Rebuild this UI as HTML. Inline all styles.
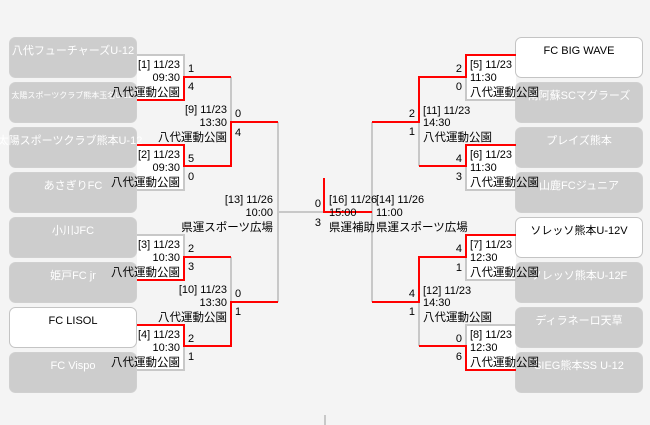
<!DOCTYPE html>
<html><head><meta charset="utf-8"><style>
html,body{margin:0;padding:0;background:#f4f4f4;}
svg{display:block;}
text{font-family:"Liberation Sans","Noto Sans CJK JP",sans-serif;font-size:11px;fill:#000;}
.w{fill:#fff;font-size:11px;}
.b{fill:#000;font-size:11px;}
.v{font-size:11.5px;}
</style></head><body>
<svg width="650" height="425" viewBox="0 0 650 425" xmlns="http://www.w3.org/2000/svg">
<rect width="650" height="425" fill="#f4f4f4"/>
<g fill="#fff">
<rect x="137" y="55" width="47" height="45"/><rect x="137" y="145" width="47" height="45"/>
<rect x="137" y="235" width="47" height="45"/><rect x="137" y="325" width="47" height="45"/>
<rect x="466" y="55" width="50" height="45"/><rect x="466" y="145" width="50" height="45"/>
<rect x="466" y="235" width="50" height="45"/><rect x="466" y="325" width="50" height="45"/>
</g>
<g stroke="#d0d0d0" stroke-width="1">
<rect x="9.5" y="37.5" width="127" height="40" rx="6" fill="#cdcdcd"/>
<rect x="9.5" y="82.5" width="127" height="40" rx="6" fill="#cdcdcd"/>
<rect x="9.5" y="127.5" width="127" height="40" rx="6" fill="#cdcdcd"/>
<rect x="9.5" y="172.5" width="127" height="40" rx="6" fill="#cdcdcd"/>
<rect x="9.5" y="217.5" width="127" height="40" rx="6" fill="#cdcdcd"/>
<rect x="9.5" y="262.5" width="127" height="40" rx="6" fill="#cdcdcd"/>
<rect x="9.5" y="307.5" width="127" height="40" rx="6" fill="#fff" stroke="#c4c4c4"/>
<rect x="9.5" y="352.5" width="127" height="40" rx="6" fill="#cdcdcd"/>
<rect x="515.5" y="37.5" width="127" height="40" rx="6" fill="#fff" stroke="#c4c4c4"/>
<rect x="515.5" y="82.5" width="127" height="40" rx="6" fill="#cdcdcd"/>
<rect x="515.5" y="127.5" width="127" height="40" rx="6" fill="#cdcdcd"/>
<rect x="515.5" y="172.5" width="127" height="40" rx="6" fill="#cdcdcd"/>
<rect x="515.5" y="217.5" width="127" height="40" rx="6" fill="#fff" stroke="#c4c4c4"/>
<rect x="515.5" y="262.5" width="127" height="40" rx="6" fill="#cdcdcd"/>
<rect x="515.5" y="307.5" width="127" height="40" rx="6" fill="#cdcdcd"/>
<rect x="515.5" y="352.5" width="127" height="40" rx="6" fill="#cdcdcd"/>
</g>
<g text-anchor="middle">
<text class="w" x="73" y="54">八代フューチャーズU-12</text>
<text class="w" x="72" y="98" style="font-size:8px">太陽スポーツクラブ熊本玉名U-12</text>
<text class="w" x="70" y="144">太陽スポーツクラブ熊本U-12</text>
<text class="w" x="73" y="189">あさぎりFC</text>
<text class="w" x="73" y="234">小川JFC</text>
<text class="w" x="73" y="279">姫戸FC jr</text>
<text class="b" x="73" y="324">FC LISOL</text>
<text class="w" x="73" y="369">FC Vispo</text>
<text class="b" x="579" y="54">FC BIG WAVE</text>
<text class="w" x="579" y="99">南阿蘇SCマグラーズ</text>
<text class="w" x="579" y="144">プレイズ熊本</text>
<text class="w" x="579" y="189">山鹿FCジュニア</text>
<text class="b" x="579" y="234">ソレッソ熊本U-12V</text>
<text class="w" x="579" y="279">ソレッソ熊本U-12F</text>
<text class="w" x="579" y="324">ディラネーロ天草</text>
<text class="w" x="579" y="369">SIEG熊本SS U-12</text>
</g>
<g stroke="#c8c8c8" stroke-width="2" fill="none">
<path d="M137 55H184V77"/><path d="M137 190H184V166"/><path d="M231 77V122"/>
<path d="M137 235H184V257"/><path d="M137 370H184V346"/><path d="M231 257V302"/>
<path d="M278 122V302"/><path d="M278 212H324"/>
<path d="M516 100H466V77"/><path d="M516 190H466V166"/><path d="M419 122V166"/>
<path d="M516 280H466V257"/><path d="M516 325H466V346"/><path d="M419 302V346"/>
<path d="M372 122V302"/><path d="M325 415V425"/>
</g>
<g stroke="#ff0000" stroke-width="2" fill="none">
<path d="M137 100H184V77H231"/><path d="M137 145H184V166H231V122H278"/>
<path d="M137 280H184V257H231"/><path d="M137 325H184V346H231V302H278"/>
<path d="M516 55H466V77H419V122H372"/><path d="M516 145H466V166H419"/>
<path d="M516 235H466V257H419V302H372"/><path d="M516 370H466V346H419"/>
<path d="M372 212H324V178"/>
</g>
<g text-anchor="end">
<text x="180" y="68">[1] 11/23</text><text x="180" y="81">09:30</text><text class="v" x="180" y="96">八代運動公園</text>
<text x="180" y="158">[2] 11/23</text><text x="180" y="171">09:30</text><text class="v" x="180" y="186">八代運動公園</text>
<text x="180" y="248">[3] 11/23</text><text x="180" y="261">10:30</text><text class="v" x="180" y="276">八代運動公園</text>
<text x="180" y="338">[4] 11/23</text><text x="180" y="351">10:30</text><text class="v" x="180" y="366">八代運動公園</text>
<text x="227" y="113">[9] 11/23</text><text x="227" y="126">13:30</text><text class="v" x="227" y="141">八代運動公園</text>
<text x="227" y="293">[10] 11/23</text><text x="227" y="306">13:30</text><text class="v" x="227" y="321">八代運動公園</text>
<text x="273" y="203">[13] 11/26</text><text x="273" y="216">10:00</text><text class="v" x="273" y="231">県運スポーツ広場</text>
<text x="462" y="72">2</text><text x="462" y="90">0</text>
<text x="462" y="162">4</text><text x="462" y="180">3</text>
<text x="462" y="252">4</text><text x="462" y="271">1</text>
<text x="462" y="342">0</text><text x="462" y="360">6</text>
<text x="415" y="117">2</text><text x="415" y="135">1</text>
<text x="415" y="297">4</text><text x="415" y="315">1</text>
<text x="321" y="207">0</text><text x="321" y="226">3</text>
</g>
<g>
<text x="188" y="72">1</text><text x="188" y="90">4</text>
<text x="188" y="162">5</text><text x="188" y="180">0</text>
<text x="188" y="252">2</text><text x="188" y="270">3</text>
<text x="188" y="342">2</text><text x="188" y="360">1</text>
<text x="235" y="117">0</text><text x="235" y="136">4</text>
<text x="235" y="297">0</text><text x="235" y="315">1</text>
<text x="470" y="68">[5] 11/23</text><text x="470" y="81">11:30</text><text class="v" x="470" y="96">八代運動公園</text>
<text x="470" y="158">[6] 11/23</text><text x="470" y="171">11:30</text><text class="v" x="470" y="186">八代運動公園</text>
<text x="470" y="248">[7] 11/23</text><text x="470" y="261">12:30</text><text class="v" x="470" y="276">八代運動公園</text>
<text x="470" y="338">[8] 11/23</text><text x="470" y="351">12:30</text><text class="v" x="470" y="366">八代運動公園</text>
<text x="423" y="114">[11] 11/23</text><text x="423" y="126">14:30</text><text class="v" x="423" y="141">八代運動公園</text>
<text x="423" y="294">[12] 11/23</text><text x="423" y="306">14:30</text><text class="v" x="423" y="321">八代運動公園</text>
<text x="329" y="203">[16] 11/26</text><text x="329" y="216">15:00</text><text class="v" x="329" y="231">県運補助</text>
<text x="376" y="203">[14] 11/26</text><text x="376" y="216">11:00</text><text class="v" x="376" y="231">県運スポーツ広場</text>
</g>
</svg>
</body></html>
